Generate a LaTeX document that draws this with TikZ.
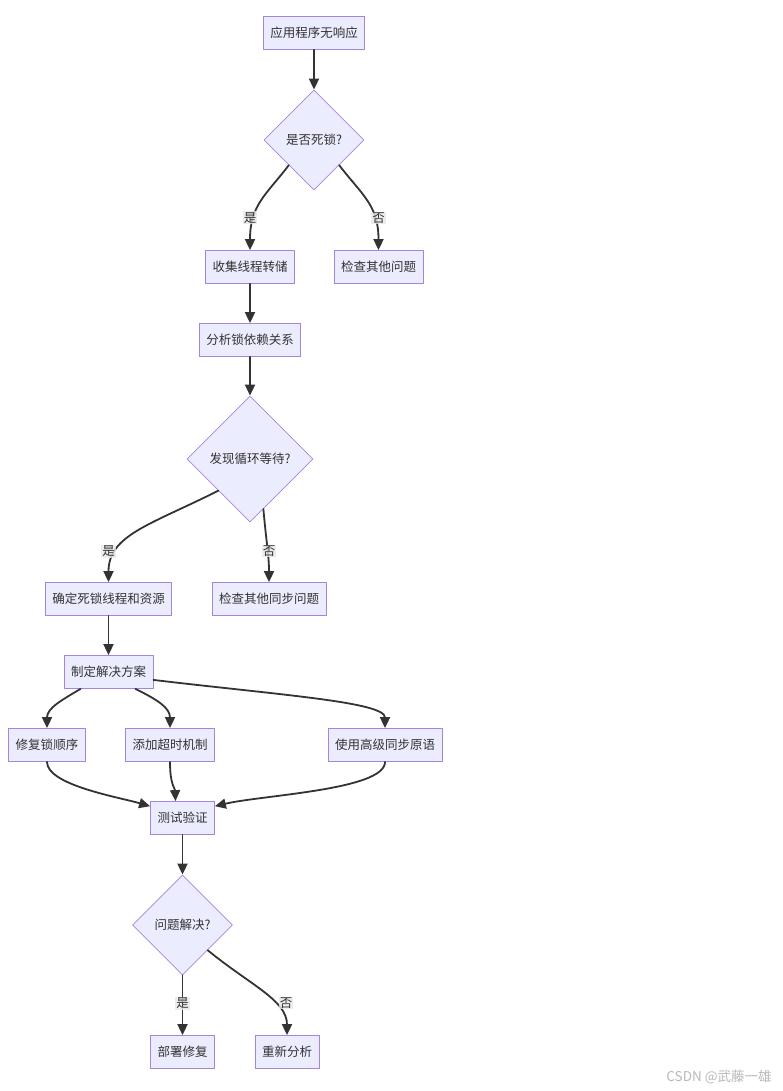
\documentclass[tikz,border=0pt]{standalone}
\usepackage{fontspec}
\newfontfamily\cjk{Noto Sans CJK SC}
\usetikzlibrary{arrows.meta, shapes.geometric}

\definecolor{boxfill}{HTML}{ECECFF}
\definecolor{boxline}{HTML}{9370DB}
\definecolor{edgeline}{HTML}{333333}
\definecolor{lblfill}{HTML}{E8E8E8}

\begin{document}
\begin{tikzpicture}[line cap=round,line join=round,x=1pt,y=-1pt,
  txt/.style={text=edgeline,font=\cjk\fontsize{12.5}{15}\selectfont},
  box/.style={txt,draw=boxline!85,fill=boxfill,line width=0.8pt,minimum height=33pt,inner xsep=7pt},
  decision/.style={txt,diamond,aspect=1,draw=boxline!85,fill=boxfill,line width=0.8pt,inner sep=0pt},
  arr/.style={draw=edgeline,line width=1.8pt,-{Triangle[length=11pt,width=10pt]}},
  lbl/.style={txt,fill=lblfill,fill opacity=0.8,text opacity=1,inner sep=1pt}]
\fill[white] (0,0) rectangle (782,1091);
\useasboundingbox (0,0) rectangle (782,1091);

% nodes
\node[box] (hang) at (314,33) {应用程序无响应};
\node[decision,minimum width=100pt,minimum height=100pt] (isdead) at (314,140) {是否死锁?};
\node[box] (dump) at (250,267) {收集线程转储};
\node[box] (other) at (378.5,267) {检查其他问题};
\node[box] (deps) at (250,340) {分析锁依赖关系};
\node[decision,minimum width=126pt,minimum height=126pt] (cycle) at (250,459) {发现循环等待?};
\node[box] (locate) at (108.5,599) {确定死锁线程和资源};
\node[box] (sync) at (269,599) {检查其他同步问题};
\node[box] (plan) at (108.5,672) {制定解决方案};
\node[box] (order) at (47,745) {修复锁顺序};
\node[box] (timeout) at (170,745) {添加超时机制};
\node[box] (prim) at (385,745) {使用高级同步原语};
\node[box] (test) at (182.5,818) {测试验证};
\node[decision,minimum width=100pt,minimum height=100pt] (solved) at (182.5,925) {问题解决?};
\node[box] (deploy) at (182.5,1052) {部署修复};
\node[box] (redo) at (287,1052) {重新分析};

% edges
\draw[arr] (hang) -- (isdead);
\draw[arr] (isdead.south west) .. controls (266,195) and (250,205) .. (dump.north);
\draw[arr] (isdead.south east) .. controls (362,195) and (378.5,205) .. (other.north);
\draw[arr] (dump) -- (deps);
\draw[arr] (deps) -- (cycle);
\draw[arr] (cycle.south west) .. controls (150,525) and (108.5,535) .. (locate.north);
\draw[arr] (cycle.-75) .. controls (266,540) and (269,555) .. (sync.north);
\draw[arr] (locate) -- (plan);
\draw[arr] ([xshift=-28pt]plan.south) .. controls (62,700) and (47,708) .. (order.north);
\draw[arr] ([xshift=27pt]plan.south) .. controls (158,700) and (170,708) .. (timeout.north);
\draw[arr] (plan.-10) .. controls (280,695) and (385,702) .. (prim.north);
\draw[arr] (order.south) .. controls (47,785) and (118,797) .. (test.160);
\draw[arr] (timeout.south) .. controls (170,785) and (175,788) .. ([xshift=-7pt]test.north);
\draw[arr] (prim.south) .. controls (385,790) and (262,795) .. (test.20);
\draw[arr] (test) -- (solved);
\draw[arr] (solved) -- (deploy);
\draw[arr] (solved.south east) .. controls (250,985) and (287,1000) .. (redo.north);

% edge labels
\node[lbl] (yesA) at (250,218) {是};
\node[lbl] (noA) at (378.5,218) {否};
\node[lbl] (yesB) at (108.5,551) {是};
\node[lbl] (noB) at (269,551) {否};
\node[lbl] (yesC) at (182.5,1003) {是};
\node[lbl] (noC) at (286,1003) {否};

\node[txt,text=gray!55,font=\cjk\fontsize{13.5}{15}\selectfont] (mark) at (719,1077) {CSDN @武藤一雄};
\end{tikzpicture}
\end{document}
